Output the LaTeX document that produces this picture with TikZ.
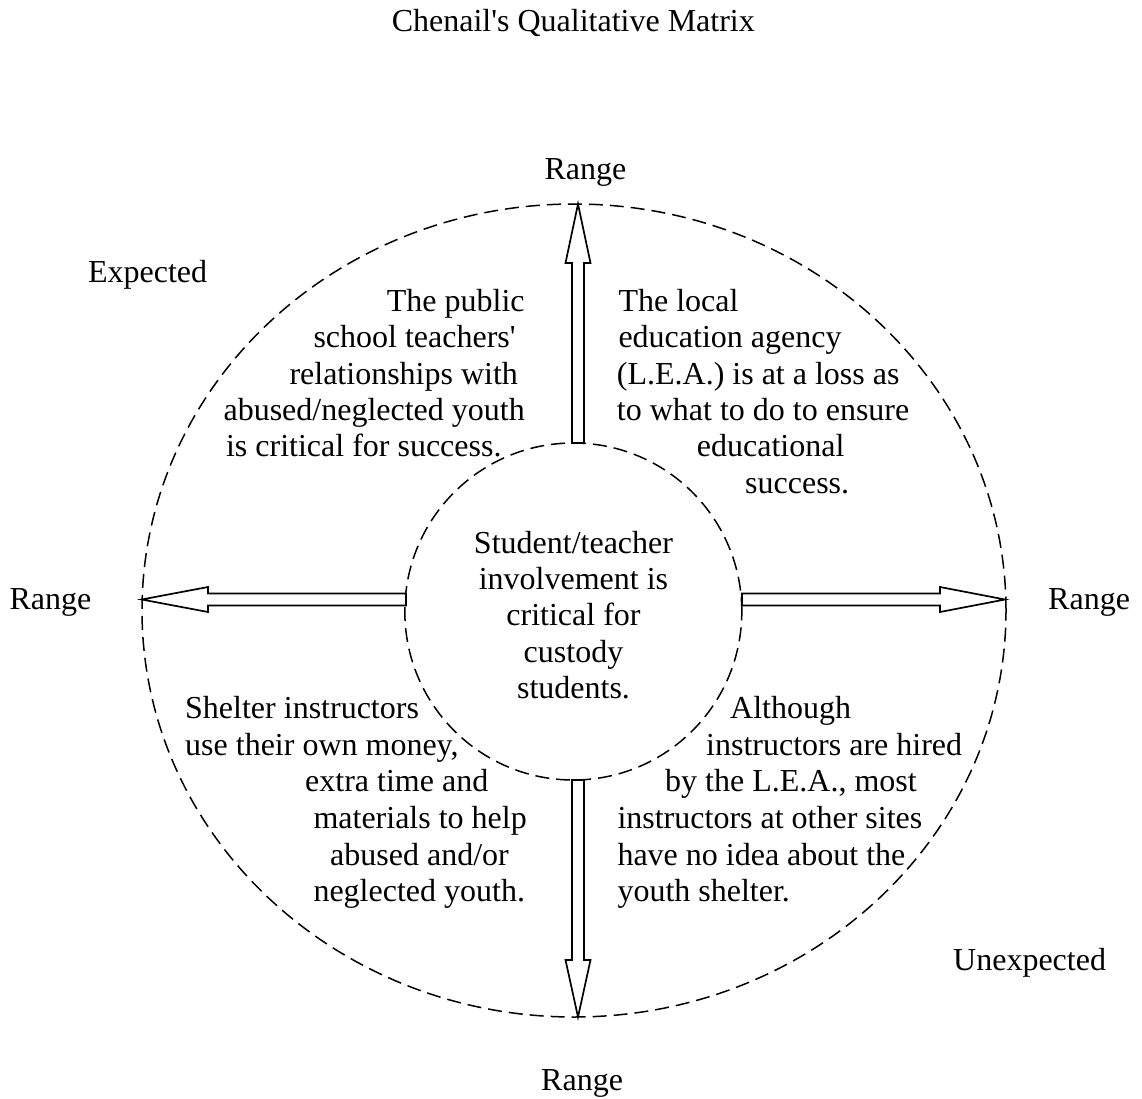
\documentclass[tikz,border=0pt]{standalone}
\usepackage{fontspec}
\setmainfont{Liberation Serif}
\usetikzlibrary{shapes.geometric}
\begin{document}
\begin{tikzpicture}[x=1pt,y=-1pt,
  txt/.style={inner sep=0pt, font=\fontsize{32}{36}\selectfont},
  ring/.style={draw, dash pattern=on 14pt off 7pt, line width=1.5pt, inner sep=0pt},
  blockarrow/.style={draw, line width=1.7pt, fill=white, line join=miter}]
\useasboundingbox (0,0) rectangle (1142,1099);
\fill[white] (0,0) rectangle (1142,1099);

% rings
\node[ring, ellipse, minimum width=864pt, minimum height=813pt] (outer) at (574,610.5) {};
\node[ring, circle, minimum size=337pt] (inner) at (573.3,611.5) {};

% block arrows from the inner circle out to the outer ring
\draw[blockarrow] (572,443) -- (572,263) -- (565.5,263) -- (578,204)
  -- (590.5,263) -- (584,263) -- (584,443) -- cycle;
\draw[blockarrow] (572,780) -- (572,960) -- (565.5,960) -- (578,1017)
  -- (590.5,960) -- (584,960) -- (584,780) -- cycle;
\draw[blockarrow] (406,593.5) -- (208,593.5) -- (208,587) -- (141.7,599.5)
  -- (208,612) -- (208,605.5) -- (406,605.5) -- cycle;
\draw[blockarrow] (742,593.5) -- (940,593.5) -- (940,587) -- (1005,599.5)
  -- (940,612) -- (940,605.5) -- (742,605.5) -- cycle;

% title and axis labels
\node[txt, anchor=base] (title) at (573.3,31.7) {Chenail\textquotesingle s Qualitative Matrix};
\node[txt, anchor=base] (rtop) at (585.5,180) {Range};
\node[txt, anchor=base west] (rleft) at (9.3,609.3) {Range};
\node[txt, anchor=base west] (rright) at (1048,609.3) {Range};
\node[txt, anchor=base west] (rbottom) at (541,1090) {Range};
\node[txt, anchor=base east] (expected) at (207.3,282.7) {Expected};
\node[txt, anchor=base west] (unexpected) at (953,970) {Unexpected};

% upper left quadrant
\node[txt, anchor=base west] (ul1) at (386.7,311.7) {The public};
\node[txt, anchor=base west] (ul2) at (313.3,347.9) {school teachers\textquotesingle};
\node[txt, anchor=base west] (ul3) at (289.3,384.2) {relationships with};
\node[txt, anchor=base east] (ul4) at (525,420.4) {abused/neglected youth};
\node[txt, anchor=base east] (ul5) at (501.7,456.7) {is critical for success.};

% upper right quadrant
\node[txt, anchor=base west] (ur1) at (618.3,311.7) {The local};
\node[txt, anchor=base west] (ur2) at (618.3,347.9) {education agency};
\node[txt, anchor=base west] (ur3) at (616.7,384.2) {(L.E.A.) is at a loss as};
\node[txt, anchor=base west] (ur4) at (616.7,420.4) {to what to do to ensure};
\node[txt, anchor=base west] (ur5) at (696.7,456.7) {educational};
\node[txt, anchor=base west] (ur6) at (745,493) {success.};

% centre
\node[txt, anchor=base] (c1) at (573.5,553.3) {Student/teacher};
\node[txt, anchor=base] (c2) at (573.5,589.6) {involvement is};
\node[txt, anchor=base] (c3) at (573.5,625.8) {critical for};
\node[txt, anchor=base] (c4) at (573.5,662.1) {custody};
\node[txt, anchor=base] (c5) at (573.5,698.3) {students.};

% lower left quadrant
\node[txt, anchor=base west] (ll1) at (185,718.3) {Shelter instructors};
\node[txt, anchor=base west] (ll2) at (185,755) {use their own money,};
\node[txt, anchor=base west] (ll3) at (305,791.7) {extra time and};
\node[txt, anchor=base west] (ll4) at (313.3,828.3) {materials to help};
\node[txt, anchor=base west] (ll5) at (330,865) {abused and/or};
\node[txt, anchor=base west] (ll6) at (313.3,901.7) {neglected youth.};

% lower right quadrant
\node[txt, anchor=base west] (lr1) at (730,718.3) {Although};
\node[txt, anchor=base west] (lr2) at (706,755) {instructors are hired};
\node[txt, anchor=base west] (lr3) at (665,791.7) {by the L.E.A., most};
\node[txt, anchor=base west] (lr4) at (617.3,828.3) {instructors at other sites};
\node[txt, anchor=base west] (lr5) at (617.3,865) {have no idea about the};
\node[txt, anchor=base west] (lr6) at (617.3,901.7) {youth shelter.};
\end{tikzpicture}
\end{document}
